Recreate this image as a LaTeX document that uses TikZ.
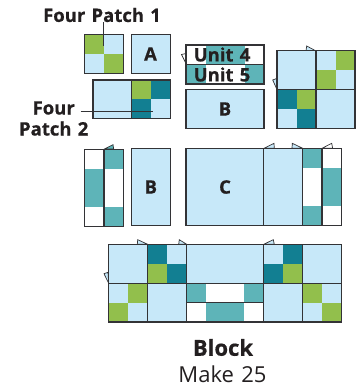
\documentclass[tikz,border=0pt]{standalone}
\usepackage{fontspec}
\setmainfont[WordSpace=1.3,BoldFeatures={FakeBold=0.6}]{Open Sans}
\definecolor{lt}{HTML}{C7E8F9}
\definecolor{gr}{HTML}{92BF4C}
\definecolor{dk}{HTML}{127F92}
\definecolor{tl}{HTML}{5EB4B8}
\definecolor{ln}{HTML}{333336}
\definecolor{ink}{HTML}{231F20}
\tikzset{
 edge/.style={draw=ln,line width=1.3pt},
 lab/.style={font=\bfseries\fontsize{18.5}{20}\selectfont,text=ink,inner sep=0pt,align=center},
 lead/.style={draw=ln,line width=0.7pt},
 flag/.style={draw=ln,line width=0.7pt,line join=miter},
}
\newcommand{\fourp}[8]{%
 \fill[#5] (#1,#2) rectangle ({(#1+#3)/2},{(#2+#4)/2});
 \fill[#6] ({(#1+#3)/2},#2) rectangle (#3,{(#2+#4)/2});
 \fill[#7] (#1,{(#2+#4)/2}) rectangle ({(#1+#3)/2},#4);
 \fill[#8] ({(#1+#3)/2},{(#2+#4)/2}) rectangle (#3,#4);
 \draw[edge] (#1,#2) rectangle (#3,#4);}
\newcommand{\plain}[4]{\fill[lt] (#1,#2) rectangle (#3,#4); \draw[edge] (#1,#2) rectangle (#3,#4);}
\newcommand{\vstrip}[6]{%
 \fill[#5] (#1,#2) rectangle (#3,{#2+(#4-#2)/4});
 \fill[#6] (#1,{#2+(#4-#2)/4}) rectangle (#3,{#2+3*(#4-#2)/4});
 \fill[#5] (#1,{#2+3*(#4-#2)/4}) rectangle (#3,#4);
 \draw[edge] (#1,#2) rectangle (#3,#4);}
\newcommand{\hstrip}[6]{%
 \fill[#5] (#1,#2) rectangle ({#1+(#3-#1)/4},#4);
 \fill[#6] ({#1+(#3-#1)/4},#2) rectangle ({#1+3*(#3-#1)/4},#4);
 \fill[#5] ({#1+3*(#3-#1)/4},#2) rectangle (#3,#4);
 \draw[edge] (#1,#2) rectangle (#3,#4);}
\begin{document}
\begin{tikzpicture}[x=1pt,y=-1pt]
\useasboundingbox (0,0) rectangle (358,389);
\filldraw[flag,fill=white] (181.5,54.5) -- (186,53.5) -- (186,63.5) -- cycle;
\fourp{84.7}{34.7}{123.7}{73.3}{gr}{lt}{lt}{gr}
\plain{131.5}{34.7}{170.3}{73.3}
\plain{93}{80}{131.5}{118.5}
\fourp{131.5}{80}{170.3}{118.5}{gr}{dk}{dk}{lt}
\hstrip{186}{45}{264}{64.3}{white}{tl}
\hstrip{186}{64.3}{264}{84}{tl}{white}
\plain{186}{89.7}{264}{128.3}
\filldraw[flag,fill=lt] (306,50.7) -- (306.7,46) -- (315.5,50.7) -- cycle;
\filldraw[flag,fill=lt] (272.7,80) -- (276.7,78.5) -- (277,89.5) -- cycle;
\plain{277}{50.7}{316}{89.7}
\fourp{316}{50.7}{355}{89.7}{lt}{gr}{gr}{lt}
\fourp{277}{89.7}{316}{128.3}{dk}{gr}{lt}{dk}
\plain{316}{89.7}{355}{128.3}
\filldraw[flag,fill=tl] (104.5,149) -- (113,144.7) -- (113.7,149) -- cycle;
\vstrip{84.7}{149.3}{104}{226.7}{white}{tl}
\vstrip{104}{149.3}{123.3}{226.7}{tl}{white}
\plain{131.3}{148.3}{170.3}{225.3}
\filldraw[flag,fill=lt] (264,148.3) -- (274,143.3) -- (274.3,148.3) -- cycle;
\filldraw[flag,fill=lt] (292.3,143.3) -- (292,148.3) -- (302.7,148.3) -- cycle;
\filldraw[flag,fill=white] (322,148.3) -- (331.7,143.3) -- (332.7,148.3) -- cycle;
\plain{186}{148.3}{263.7}{225.3}
\plain{263.7}{148.3}{302.7}{225.3}
\vstrip{302.7}{148.3}{322}{225.3}{tl}{white}
\vstrip{322}{148.3}{341.3}{225.3}{white}{tl}
\filldraw[flag,fill=lt] (137.7,239.7) -- (137.3,244.3) -- (147.7,244.3) -- cycle;
\filldraw[flag,fill=lt] (179.3,239.7) -- (178.7,244.3) -- (186.7,244.3) -- cycle;
\filldraw[flag,fill=lt] (263.7,244.3) -- (273.3,239.7) -- (274.3,244.3) -- cycle;
\filldraw[flag,fill=lt] (104,273.7) -- (108,272.3) -- (108.7,283.3) -- cycle;
\plain{108.7}{244.3}{147.7}{283.3}
\fourp{147.7}{244.3}{186.7}{283.3}{dk}{lt}{gr}{dk}
\plain{186.7}{244.3}{263.7}{283.3}
\fourp{263.7}{244.3}{302.7}{283.3}{lt}{dk}{dk}{gr}
\plain{302.7}{244.3}{341.7}{283.3}
\fourp{108.7}{283.3}{147.7}{322}{lt}{gr}{gr}{lt}
\plain{147.7}{283.3}{186.7}{322}
\hstrip{186.7}{283.3}{263.7}{302.7}{tl}{white}
\hstrip{186.7}{302.7}{263.7}{322}{white}{tl}
\plain{263.7}{283.3}{302.7}{322}
\fourp{302.7}{283.3}{341.7}{322}{gr}{lt}{lt}{gr}
\node[lab] (fp1) at (102,15) {Four Patch 1};
\node[lab] (fp2) at (53.7,118.5) {Four\\[1pt]Patch 2};
\coordinate (fp1end) at (103.3,46);
\coordinate (fp2start) at (80.7,111.7);
\coordinate (fp2end) at (153,111.7);
\draw[lead] (fp1.south -| fp1end) -- (fp1end);
\draw[lead] (fp2start) -- (fp2end);
\node[lab] (a) at (150.5,54) {A};
\node[lab] (u4) at (222,54.5) {Unit 4};
\node[lab] (u5) at (222,74.5) {Unit 5};
\node[lab] (b1) at (225,109) {B};
\node[lab] (b2) at (150.8,187) {B};
\node[lab] (c) at (225,187) {C};
\node[lab,font=\bfseries\fontsize{22}{24}\selectfont] (blk) at (223,347.5) {Block};
\node[inner sep=0pt,text=ink,font=\fontsize{22}{24}\selectfont] (mk) at (222.5,374.5) {Make 25};
\end{tikzpicture}
\end{document}
